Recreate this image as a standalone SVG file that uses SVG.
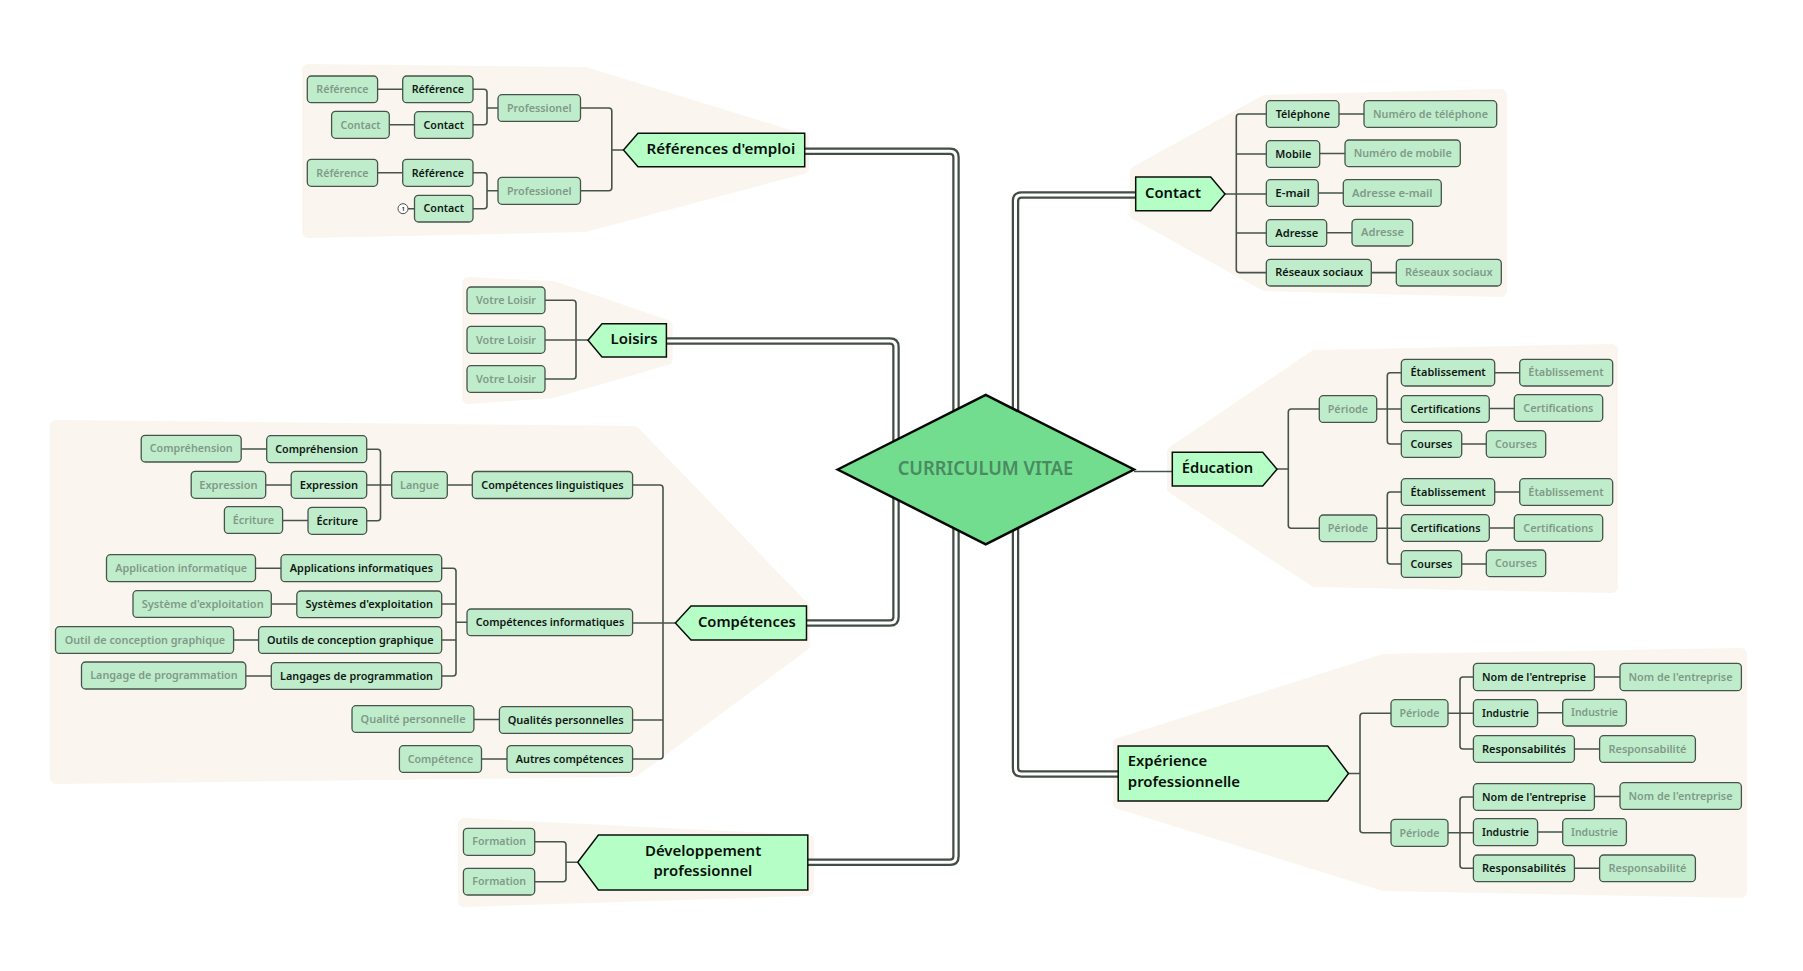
<svg xmlns="http://www.w3.org/2000/svg" width="1803" height="971" viewBox="0 0 1803 971">
<style>
text{font-family:"Noto Sans","Open Sans",sans-serif;font-weight:600;font-size:11px;fill:#101814;transform:translateY(-0.5px)}
.g{fill:#7f9a88}
.big{font-size:15px;fill:#0a0f0c;transform:translateY(-1.3px)}
.c{font-size:19px;fill:#4a8a62}
rect{fill:#bfeccb;stroke:#46544b;stroke-width:1.3}
.blob{fill:#faf6ef;stroke:#faf6ef;stroke-width:12;stroke-linejoin:round}
.t{fill:#b5ffc6;stroke:#0b0f0c;stroke-width:1.5}
.l{fill:none;stroke:#46544b;stroke-width:1.6}
.d1{fill:none;stroke:#414d45;stroke-width:7.5}
.d2{fill:none;stroke:#fff;stroke-width:3}
</style>
<g id="boundaries">
<polygon class="blob" points="308,70 585,73 803,140 803,168 585,226 308,232"/>
<polygon class="blob" points="468,283 553,287 666.5,326 666.5,359 553,392 468,398"/>
<polygon class="blob" points="56,426 634,432 804,608 804,645 634,771 56,778"/>
<polygon class="blob" points="464,824 808,841 808,890 464,901"/>
<polygon class="blob" points="1136,172 1265,101 1501,95 1501,291 1265,285 1136,214"/>
<polygon class="blob" points="1173,452 1315,356 1612,350 1612,587 1315,581 1173,488"/>
<polygon class="blob" points="1119,744 1384,660 1741,654 1741,892 1384,885 1119,803"/>
</g>
<g id="connectors">
<path id="main-paths" class="d1" d="M805,151.3H950Q956,151.3 956,157.3V470M666,341H890Q896,341 896,347V470M806,623H890Q896,623 896,617V470M808,862.3H950Q956,862.3 956,856.3V470M1136,195H1021.500Q1015.500,195 1015.500,201V470M1118,774H1021.500Q1015.500,774 1015.500,768V470"/>
<path class="d2" d="M805,151.3H950Q956,151.3 956,157.3V470M666,341H890Q896,341 896,347V470M806,623H890Q896,623 896,617V470M808,862.3H950Q956,862.3 956,856.3V470M1136,195H1021.500Q1015.500,195 1015.500,201V470M1118,774H1021.500Q1015.500,774 1015.500,768V470"/>
<path class="l" d="M1134,471.500H1172"/>
<path class="l" d="M623.500,150H611.800M580.500,108H608.800Q611.800,108 611.800,111V187.800Q611.800,190.800 608.800,190.800H580.500"/>
<path class="l" d="M498,108H487M473,89.300H484Q487,89.300 487,92.300V121.800Q487,124.800 484,124.800H473M377.600,89.300H402.700M389.300,124.800H414.500"/>
<path class="l" d="M498,190.800H487M473,172.800H484Q487,172.800 487,175.800V205.700Q487,208.700 484,208.700H473M377.600,172.800H402.700M408,208.700H414.500"/>
<path class="l" d="M545,340H588M545,300.300H573Q576,300.300 576,303.300V376Q576,379 573,379H545"/>
<path class="l" d="M675.400,623H632.600M632.600,485H660Q663,485 663,488V756Q663,759 660,759H632.600M632.600,720H663"/>
<path class="l" d="M447.300,485H472.300M391.700,485H366.700M366.700,449.200H377.500Q380.500,449.200 380.500,452.200V517.800Q380.500,520.800 377.500,520.800H366.700M241.200,449H266.700M265.700,485H291.200M282.600,520.500H308"/>
<path class="l" d="M467,622.300H456M441.700,568.200H453Q456,568.200 456,571.200V673Q456,676 453,676H441.700M441.700,604H456M441.700,640H456M255.500,568.200H281M271.300,604H296.800M233.600,640H258.600M245.800,676H271.300M473.900,719.500H499.400M481.500,759H507"/>
<path class="l" d="M577.700,862.300H566M534.700,841.800H563Q566,841.800 566,844.800V878.700Q566,881.700 563,881.700H534.700"/>
<path class="l" d="M1225,194H1266.300M1266.300,114H1239.300Q1236.300,114 1236.300,117V269.600Q1236.300,272.600 1239.300,272.600H1266.300M1236.300,154H1266.300M1236.300,233H1266.300M1339,114H1364M1319.700,153.500H1345M1318.300,193H1343.300M1326.700,232.700H1352M1371.300,272.600H1396.300"/>
<path class="l" d="M1277,469H1288.300M1319.300,409H1291.300Q1288.300,409 1288.300,412V525.300Q1288.300,528.300 1291.300,528.300H1319.300"/>
<path class="l" d="M1376.700,409H1401.300M1401.300,372.700H1390.300Q1387.300,372.700 1387.300,375.700V441Q1387.300,444 1390.300,444H1401.300M1494.700,372.700H1519.700M1489.300,408.500H1514.300M1461.700,444H1486.300"/>
<path class="l" d="M1376.700,528.300H1401.300M1401.300,492H1390.300Q1387.300,492 1387.300,495V561Q1387.300,564 1390.300,564H1401.300M1494.700,492H1519.700M1489.300,528H1514.300M1461.700,564H1486.300"/>
<path class="l" d="M1348.500,773.500H1360M1391,713.200H1363Q1360,713.200 1360,716.200V829.800Q1360,832.800 1363,832.800H1391"/>
<path class="l" d="M1448,713.200H1473.400M1473.400,677H1463Q1460,677 1460,680V746Q1460,749 1463,749H1473.400M1594.400,677H1620M1537.600,712.800H1562.700M1574.400,749H1599.600"/>
<path class="l" d="M1448,832.800H1473.400M1473.400,797H1463Q1460,797 1460,800V865.300Q1460,868.300 1463,868.300H1473.400M1594.400,796.500H1620M1537.600,832H1562.700M1574.400,868.300H1599.600"/>
</g>
<g id="center"><polygon points="837.700,469.500 985.700,395 1134,469.500 985.700,544.300" fill="#72dd8e" stroke="#050805" stroke-width="2.500" stroke-linejoin="miter"/><text class="c" x="897.700" y="475.500" textLength="175.600" lengthAdjust="spacingAndGlyphs">CURRICULUM VITAE</text></g>
<g id="references-emploi"><polygon class="t" points="623.500,150 638,133.300 804.700,133.300 804.700,166.700 638,166.700"/><text class="big" x="646.500" y="155.500" textLength="148.700" lengthAdjust="spacingAndGlyphs">Références d'emploi</text></g>
<g id="prof1"><rect x="498" y="94.700" width="82.500" height="26.700" rx="4"/><text class="g" x="507" y="112" textLength="64.500" lengthAdjust="spacingAndGlyphs">Professionel</text></g>
<g id="ref1b"><rect x="402.700" y="76" width="70.300" height="26.700" rx="4"/><text x="411.700" y="93.300" textLength="52.300" lengthAdjust="spacingAndGlyphs">Référence</text></g>
<g id="ref1g"><rect x="307.300" y="76" width="70.300" height="26.700" rx="4"/><text class="g" x="316.300" y="93.300" textLength="52.300" lengthAdjust="spacingAndGlyphs">Référence</text></g>
<g id="con1b"><rect x="414.500" y="111.700" width="58.500" height="26.700" rx="4"/><text x="423.500" y="129" textLength="40.500" lengthAdjust="spacingAndGlyphs">Contact</text></g>
<g id="con1g"><rect x="331.600" y="111.300" width="57.700" height="27" rx="4"/><text class="g" x="340.600" y="129" textLength="40" lengthAdjust="spacingAndGlyphs">Contact</text></g>
<g id="prof2"><rect x="498" y="177.300" width="82.500" height="27" rx="4"/><text class="g" x="507" y="195" textLength="64.500" lengthAdjust="spacingAndGlyphs">Professionel</text></g>
<g id="ref2b"><rect x="402.700" y="159.300" width="70.300" height="27" rx="4"/><text x="411.700" y="177" textLength="52.300" lengthAdjust="spacingAndGlyphs">Référence</text></g>
<g id="ref2g"><rect x="307.300" y="159.300" width="70.300" height="27" rx="4"/><text class="g" x="316.300" y="177" textLength="52.300" lengthAdjust="spacingAndGlyphs">Référence</text></g>
<g id="con2b"><rect x="414.500" y="195.300" width="58.500" height="26.700" rx="4"/><text x="423.500" y="212.700" textLength="40.500" lengthAdjust="spacingAndGlyphs">Contact</text></g>
<g id="collapse"><circle cx="403" cy="208.700" r="5" fill="#fff" stroke="#46544b" stroke-width="1"/><text x="401.500" y="211.500" style="font-size:6px">1</text></g>
<g id="loisirs"><polygon class="t" points="588,340.300 602,323.700 666.400,323.700 666.400,357 602,357"/><text class="big" x="610.500" y="345.800" textLength="47.200" lengthAdjust="spacingAndGlyphs">Loisirs</text></g>
<g id="l1"><rect x="467" y="287" width="78" height="26.700" rx="4"/><text class="g" x="476" y="304.300" textLength="60" lengthAdjust="spacingAndGlyphs">Votre Loisir</text></g>
<g id="l2"><rect x="467" y="326.300" width="78" height="27" rx="4"/><text class="g" x="476" y="344" textLength="60" lengthAdjust="spacingAndGlyphs">Votre Loisir</text></g>
<g id="l3"><rect x="467" y="365.700" width="78" height="26.700" rx="4"/><text class="g" x="476" y="383" textLength="60" lengthAdjust="spacingAndGlyphs">Votre Loisir</text></g>
<g id="competences"><polygon class="t" points="675.400,623 691,606 806.500,606 806.500,640 691,640"/><text class="big" x="697.900" y="628.500" textLength="97.900" lengthAdjust="spacingAndGlyphs">Compétences</text></g>
<g id="cl"><rect x="472.300" y="471.500" width="160.300" height="27" rx="4"/><text x="481.300" y="489" textLength="142.300" lengthAdjust="spacingAndGlyphs">Compétences linguistiques</text></g>
<g id="langue"><rect x="391.700" y="471.700" width="55.600" height="26.700" rx="4"/><text class="g" x="400" y="489" textLength="39" lengthAdjust="spacingAndGlyphs">Langue</text></g>
<g id="compb"><rect x="266.700" y="435.700" width="100" height="27" rx="4"/><text x="275.200" y="453" textLength="83" lengthAdjust="spacingAndGlyphs">Compréhension</text></g>
<g id="compg"><rect x="141.200" y="435.300" width="100" height="26.700" rx="4"/><text class="g" x="149.700" y="452" textLength="83" lengthAdjust="spacingAndGlyphs">Compréhension</text></g>
<g id="expb"><rect x="291.200" y="471.300" width="75.500" height="27" rx="4"/><text x="299.700" y="489" textLength="58.500" lengthAdjust="spacingAndGlyphs">Expression</text></g>
<g id="expg"><rect x="191.200" y="471.300" width="74.500" height="27" rx="4"/><text class="g" x="199.200" y="489" textLength="58.500" lengthAdjust="spacingAndGlyphs">Expression</text></g>
<g id="ecrb"><rect x="308" y="507.300" width="58.700" height="27" rx="4"/><text x="316.500" y="525" textLength="41.500" lengthAdjust="spacingAndGlyphs">Écriture</text></g>
<g id="ecrg"><rect x="224.400" y="506.700" width="58.200" height="26.700" rx="4"/><text class="g" x="232.700" y="524" textLength="41.500" lengthAdjust="spacingAndGlyphs">Écriture</text></g>
<g id="ci"><rect x="467" y="609" width="165.600" height="26.700" rx="4"/><text x="475.700" y="626.300" textLength="148.500" lengthAdjust="spacingAndGlyphs">Compétences informatiques</text></g>
<g id="appb"><rect x="281" y="554.700" width="160.700" height="27" rx="4"/><text x="289.800" y="572.200" textLength="143.200" lengthAdjust="spacingAndGlyphs">Applications informatiques</text></g>
<g id="appg"><rect x="106.500" y="554.700" width="149" height="27" rx="4"/><text class="g" x="115.200" y="572.200" textLength="132" lengthAdjust="spacingAndGlyphs">Application informatique</text></g>
<g id="sysb"><rect x="296.800" y="591" width="144.900" height="26.700" rx="4"/><text x="305.500" y="608" textLength="127.500" lengthAdjust="spacingAndGlyphs">Systèmes d'exploitation</text></g>
<g id="sysg"><rect x="133" y="590.700" width="138.300" height="26.700" rx="4"/><text class="g" x="141.700" y="608" textLength="122" lengthAdjust="spacingAndGlyphs">Système d'exploitation</text></g>
<g id="outb"><rect x="258.600" y="626.700" width="183.100" height="26.700" rx="4"/><text x="267" y="644" textLength="166.500" lengthAdjust="spacingAndGlyphs">Outils de conception graphique</text></g>
<g id="outg"><rect x="55.500" y="626.700" width="178.100" height="26.700" rx="4"/><text class="g" x="64.700" y="644" textLength="160.500" lengthAdjust="spacingAndGlyphs">Outil de conception graphique</text></g>
<g id="lanb"><rect x="271.300" y="662.700" width="170.400" height="26.700" rx="4"/><text x="280" y="680" textLength="153" lengthAdjust="spacingAndGlyphs">Langages de programmation</text></g>
<g id="lang"><rect x="81.500" y="662" width="164.300" height="27" rx="4"/><text class="g" x="90.200" y="679" textLength="147.500" lengthAdjust="spacingAndGlyphs">Langage de programmation</text></g>
<g id="qualb"><rect x="499.400" y="706.700" width="133.200" height="26.700" rx="4"/><text x="507.700" y="724" textLength="116" lengthAdjust="spacingAndGlyphs">Qualités personnelles</text></g>
<g id="qualg"><rect x="352" y="705.700" width="121.900" height="26.700" rx="4"/><text class="g" x="360.600" y="723" textLength="105" lengthAdjust="spacingAndGlyphs">Qualité personnelle</text></g>
<g id="autb"><rect x="507" y="745.700" width="125.600" height="26.700" rx="4"/><text x="515.700" y="763" textLength="108" lengthAdjust="spacingAndGlyphs">Autres compétences</text></g>
<g id="autg"><rect x="399.400" y="745.700" width="82.100" height="26.700" rx="4"/><text class="g" x="407.700" y="763" textLength="65.500" lengthAdjust="spacingAndGlyphs">Compétence</text></g>
<g id="dev"><polygon class="t" points="577.700,862.300 598.400,835 807.800,835 807.800,890 598.400,890"/><text class="big" x="644.900" y="857" textLength="116.400" lengthAdjust="spacingAndGlyphs">Développement</text><text class="big" x="653.500" y="877.500" textLength="98.800" lengthAdjust="spacingAndGlyphs">professionnel</text></g>
<g id="f1"><rect x="463.400" y="828.300" width="71.300" height="27" rx="4"/><text class="g" x="472.300" y="845.500" textLength="53.800" lengthAdjust="spacingAndGlyphs">Formation</text></g>
<g id="f2"><rect x="463.400" y="868.300" width="71.300" height="26.700" rx="4"/><text class="g" x="472.300" y="885" textLength="53.800" lengthAdjust="spacingAndGlyphs">Formation</text></g>
<g id="contact"><polygon class="t" points="1225,194 1210.700,177 1135.700,177 1135.700,210.700 1210.700,210.700"/><text class="big" x="1145" y="199.500" textLength="56" lengthAdjust="spacingAndGlyphs">Contact</text></g>
<g id="telb"><rect x="1266.300" y="100.700" width="72.700" height="26.700" rx="4"/><text x="1275.700" y="118" textLength="54.300" lengthAdjust="spacingAndGlyphs">Téléphone</text></g>
<g id="telg"><rect x="1364" y="100.700" width="132.700" height="26.700" rx="4"/><text class="g" x="1373" y="118" textLength="115" lengthAdjust="spacingAndGlyphs">Numéro de téléphone</text></g>
<g id="mobb"><rect x="1266.300" y="140.700" width="53.400" height="26.700" rx="4"/><text x="1275.300" y="158" textLength="36" lengthAdjust="spacingAndGlyphs">Mobile</text></g>
<g id="mobg"><rect x="1345" y="140" width="115.300" height="26.700" rx="4"/><text class="g" x="1353.700" y="157.300" textLength="98" lengthAdjust="spacingAndGlyphs">Numéro de mobile</text></g>
<g id="maib"><rect x="1266.300" y="179.700" width="52" height="26.700" rx="4"/><text x="1275.300" y="197" textLength="34.500" lengthAdjust="spacingAndGlyphs">E-mail</text></g>
<g id="maig"><rect x="1343.300" y="179.700" width="98" height="26.700" rx="4"/><text class="g" x="1352" y="197" textLength="80.500" lengthAdjust="spacingAndGlyphs">Adresse e-mail</text></g>
<g id="adrb"><rect x="1266.300" y="219.700" width="60.400" height="26.700" rx="4"/><text x="1275.300" y="237" textLength="43" lengthAdjust="spacingAndGlyphs">Adresse</text></g>
<g id="adrg"><rect x="1352" y="219.300" width="60.700" height="26.700" rx="4"/><text class="g" x="1361" y="236" textLength="43" lengthAdjust="spacingAndGlyphs">Adresse</text></g>
<g id="resb"><rect x="1266.300" y="259.300" width="105" height="26.700" rx="4"/><text x="1275.300" y="276.600" textLength="87.700" lengthAdjust="spacingAndGlyphs">Réseaux sociaux</text></g>
<g id="resg"><rect x="1396.300" y="259.300" width="105" height="26.700" rx="4"/><text class="g" x="1405" y="276.600" textLength="87.700" lengthAdjust="spacingAndGlyphs">Réseaux sociaux</text></g>
<g id="education"><polygon class="t" points="1277,469.200 1262.700,452.300 1172.300,452.300 1172.300,486 1262.700,486"/><text class="big" x="1181.700" y="474.700" textLength="71.600" lengthAdjust="spacingAndGlyphs">Éducation</text></g>
<g id="p1"><rect x="1319.300" y="395.700" width="57.400" height="26.700" rx="4"/><text class="g" x="1327.700" y="413" textLength="40.500" lengthAdjust="spacingAndGlyphs">Période</text></g>
<g id="etab1"><rect x="1401.300" y="359.300" width="93.400" height="26.700" rx="4"/><text x="1410.500" y="376.600" textLength="75.300" lengthAdjust="spacingAndGlyphs">Établissement</text></g>
<g id="etag1"><rect x="1519.700" y="359.300" width="93" height="26.700" rx="4"/><text class="g" x="1528.300" y="376.600" textLength="75.300" lengthAdjust="spacingAndGlyphs">Établissement</text></g>
<g id="cerb1"><rect x="1401.300" y="395.700" width="88" height="26.700" rx="4"/><text x="1410.500" y="413" textLength="70" lengthAdjust="spacingAndGlyphs">Certifications</text></g>
<g id="cerg1"><rect x="1514.300" y="394.700" width="88.400" height="26.700" rx="4"/><text class="g" x="1523.300" y="412" textLength="70" lengthAdjust="spacingAndGlyphs">Certifications</text></g>
<g id="coub1"><rect x="1401.300" y="430.700" width="60.400" height="26.700" rx="4"/><text x="1410.500" y="448" textLength="41.700" lengthAdjust="spacingAndGlyphs">Courses</text></g>
<g id="coug1"><rect x="1486.300" y="430.700" width="59.400" height="26.700" rx="4"/><text class="g" x="1495" y="448" textLength="42" lengthAdjust="spacingAndGlyphs">Courses</text></g>
<g id="p2"><rect x="1319.300" y="515" width="57.400" height="26.700" rx="4"/><text class="g" x="1327.700" y="532.300" textLength="40.500" lengthAdjust="spacingAndGlyphs">Période</text></g>
<g id="etab2"><rect x="1401.300" y="478.700" width="93.400" height="26.700" rx="4"/><text x="1410.500" y="496" textLength="75.300" lengthAdjust="spacingAndGlyphs">Établissement</text></g>
<g id="etag2"><rect x="1519.700" y="478.700" width="93" height="26.700" rx="4"/><text class="g" x="1528.300" y="496" textLength="75.300" lengthAdjust="spacingAndGlyphs">Établissement</text></g>
<g id="cerb2"><rect x="1401.300" y="514.700" width="88" height="26.700" rx="4"/><text x="1410.500" y="532" textLength="70" lengthAdjust="spacingAndGlyphs">Certifications</text></g>
<g id="cerg2"><rect x="1514.300" y="514.700" width="88.400" height="26.700" rx="4"/><text class="g" x="1523.300" y="532" textLength="70" lengthAdjust="spacingAndGlyphs">Certifications</text></g>
<g id="coub2"><rect x="1401.300" y="550.700" width="60.400" height="26.700" rx="4"/><text x="1410.500" y="568" textLength="41.700" lengthAdjust="spacingAndGlyphs">Courses</text></g>
<g id="coug2"><rect x="1486.300" y="550" width="59.400" height="26.700" rx="4"/><text class="g" x="1495" y="567.300" textLength="42" lengthAdjust="spacingAndGlyphs">Courses</text></g>
<g id="experience"><polygon class="t" points="1348.500,773.500 1327.700,746 1118.200,746 1118.200,801 1327.700,801"/><text class="big" x="1127.800" y="767.700" textLength="79.300" lengthAdjust="spacingAndGlyphs">Expérience</text><text class="big" x="1127.800" y="788.500" textLength="112.300" lengthAdjust="spacingAndGlyphs">professionnelle</text></g>
<g id="pe1"><rect x="1391" y="699.700" width="57" height="27" rx="4"/><text class="g" x="1399.500" y="717" textLength="40" lengthAdjust="spacingAndGlyphs">Période</text></g>
<g id="nomb1"><rect x="1473.400" y="663.300" width="121" height="27.400" rx="4"/><text x="1482" y="681" textLength="104" lengthAdjust="spacingAndGlyphs">Nom de l'entreprise</text></g>
<g id="nomg1"><rect x="1620" y="663.300" width="121.400" height="27.400" rx="4"/><text class="g" x="1628.500" y="681" textLength="104" lengthAdjust="spacingAndGlyphs">Nom de l'entreprise</text></g>
<g id="indb1"><rect x="1473.400" y="699.700" width="64.200" height="27" rx="4"/><text x="1482" y="717" textLength="47" lengthAdjust="spacingAndGlyphs">Industrie</text></g>
<g id="indg1"><rect x="1562.700" y="699.300" width="63.700" height="26.700" rx="4"/><text class="g" x="1571" y="716" textLength="47" lengthAdjust="spacingAndGlyphs">Industrie</text></g>
<g id="resb1"><rect x="1473.400" y="735.700" width="101" height="26.700" rx="4"/><text x="1482" y="753" textLength="84" lengthAdjust="spacingAndGlyphs">Responsabilités</text></g>
<g id="resg1"><rect x="1599.600" y="735.700" width="95.800" height="26.700" rx="4"/><text class="g" x="1608.500" y="753" textLength="78" lengthAdjust="spacingAndGlyphs">Responsabilité</text></g>
<g id="pe2"><rect x="1391" y="819.300" width="57" height="27" rx="4"/><text class="g" x="1399.500" y="837" textLength="40" lengthAdjust="spacingAndGlyphs">Période</text></g>
<g id="nomb2"><rect x="1473.400" y="783.700" width="121" height="26.700" rx="4"/><text x="1482" y="801" textLength="104" lengthAdjust="spacingAndGlyphs">Nom de l'entreprise</text></g>
<g id="nomg2"><rect x="1620" y="782.700" width="121.400" height="26.700" rx="4"/><text class="g" x="1628.500" y="800" textLength="104" lengthAdjust="spacingAndGlyphs">Nom de l'entreprise</text></g>
<g id="indb2"><rect x="1473.400" y="818.700" width="64.200" height="27" rx="4"/><text x="1482" y="836" textLength="47" lengthAdjust="spacingAndGlyphs">Industrie</text></g>
<g id="indg2"><rect x="1562.700" y="818.700" width="63.700" height="27" rx="4"/><text class="g" x="1571" y="836" textLength="47" lengthAdjust="spacingAndGlyphs">Industrie</text></g>
<g id="resb2"><rect x="1473.400" y="855" width="101" height="26.700" rx="4"/><text x="1482" y="872.300" textLength="84" lengthAdjust="spacingAndGlyphs">Responsabilités</text></g>
<g id="resg2"><rect x="1599.600" y="855" width="95.800" height="26.700" rx="4"/><text class="g" x="1608.500" y="872.300" textLength="78" lengthAdjust="spacingAndGlyphs">Responsabilité</text></g>
</svg>
